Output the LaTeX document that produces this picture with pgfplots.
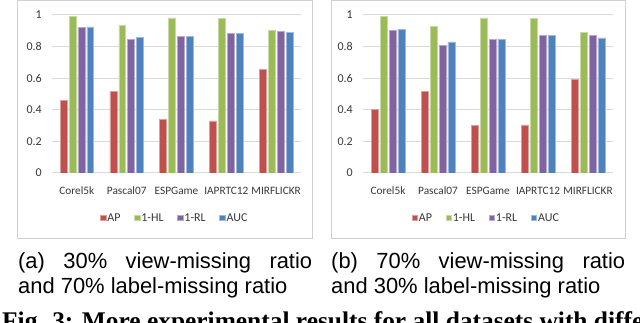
\documentclass[border=0pt]{standalone}
\usepackage{fontspec}
\setmainfont{Carlito}
\newfontfamily\capfont{Liberation Sans}
\newfontfamily\figfont{Liberation Serif}
\usepackage{pgfplots}
\usepackage{pgfplotstable}
\pgfplotsset{compat=1.18}

\definecolor{cAP}{HTML}{C0504D}
\definecolor{cHL}{HTML}{9BBB59}
\definecolor{cRL}{HTML}{8064A2}
\definecolor{cAUC}{HTML}{4F81BD}
\definecolor{gridc}{HTML}{D9D9D9}
\definecolor{boxc}{HTML}{D0D0D0}

\pgfplotstableread{
x AP HL RL AUC
0 0.460 0.990 0.920 0.925
1 0.515 0.935 0.845 0.860
2 0.340 0.982 0.865 0.865
3 0.330 0.977 0.885 0.885
4 0.655 0.902 0.897 0.890
}\dataA

\pgfplotstableread{
x AP HL RL AUC
0 0.402 0.990 0.905 0.910
1 0.515 0.930 0.808 0.830
2 0.300 0.982 0.845 0.848
3 0.305 0.980 0.870 0.870
4 0.592 0.888 0.870 0.855
}\dataB

\pgfplotsset{
  mybars/.style={
    scale only axis, height=158bp,
    ymin=0, ymax=1, xmin=-0.5, xmax=4.5,
    ytick={0,0.2,0.4,0.6,0.8,1},
    xtick={0,1,2,3,4},
    xticklabels={Corel5k,Pascal07,ESPGame,IAPRTC12,MIRFLICKR},
    ymajorgrids, grid style={color=gridc, line width=1bp},
    axis line style={draw=none}, major tick length=0pt,
    ybar=2bp, bar width=6.9bp,
    /pgf/number format/assume math mode=true,
    tick label style={font=\fontsize{12bp}{14bp}\selectfont, text=black!78},
    yticklabel style={anchor=east, inner sep=0pt, xshift=-10bp},
    xticklabel style={anchor=base, inner sep=0pt, yshift=-22bp,
      font=\fontsize{11.3bp}{14bp}\selectfont},
    legend columns=4,
    legend style={draw=none, fill=none, at={(0.5,0)}, anchor=center,
      yshift=-45bp, xshift=-2bp,
      font=\fontsize{12bp}{14bp}\selectfont, text=black!78,
      nodes={inner sep=1.2bp},
      /tikz/every even column/.append style={column sep=12.5bp}},
    legend image code/.code={\fill[##1] (0bp,-2.7bp) rectangle (5.4bp,2.7bp);},
  },
  pAP/.style={fill=cAP, draw=cAP!55!white, line width=0.5bp},
  pHL/.style={fill=cHL, draw=cHL!55!white, line width=0.5bp},
  pRL/.style={fill=cRL, draw=cRL!55!white, line width=0.5bp},
  pAUC/.style={fill=cAUC, draw=cAUC!55!white, line width=0.5bp},
}

\begin{document}
\begin{tikzpicture}
\path[use as bounding box, clip] (0,0) rectangle (640bp,323bp);
\fill[white] (0,0) rectangle (640bp,323bp);
\draw[boxc, line width=0.8bp] (17bp,85bp) rectangle (312bp,322.5bp);
\draw[boxc, line width=0.8bp] (331bp,85bp) rectangle (625bp,322.5bp);

\begin{axis}[mybars, width=249bp, at={(52bp,150bp)}, anchor=south west]
\addplot[pAP] table[x=x,y=AP] {\dataA};
\addplot[pHL] table[x=x,y=HL] {\dataA};
\addplot[pRL] table[x=x,y=RL] {\dataA};
\addplot[pAUC] table[x=x,y=AUC] {\dataA};
\legend{AP,1-HL,1-RL,AUC}
\end{axis}

\begin{axis}[mybars, width=250bp, at={(363bp,150bp)}, anchor=south west]
\addplot[pAP] table[x=x,y=AP] {\dataB};
\addplot[pHL] table[x=x,y=HL] {\dataB};
\addplot[pRL] table[x=x,y=RL] {\dataB};
\addplot[pAUC] table[x=x,y=AUC] {\dataB};
\legend{AP,1-HL,1-RL,AUC}
\end{axis}

\node[anchor=base west, inner sep=0pt, font=\capfont\fontsize{22}{24}\selectfont] at (18bp,54bp) {\makebox[294bp][s]{(a) 30\% view-missing ratio}};
\node[anchor=base west, inner sep=0pt, font=\capfont\fontsize{22}{24}\selectfont] at (18bp,30bp) {and 70\% label-missing ratio};
\node[anchor=base west, inner sep=0pt, font=\capfont\fontsize{22}{24}\selectfont] at (331bp,54bp) {\makebox[294bp][s]{(b) 70\% view-missing ratio}};
\node[anchor=base west, inner sep=0pt, font=\capfont\fontsize{22}{24}\selectfont] at (331bp,30bp) {and 30\% label-missing ratio};

\node[anchor=base west, inner sep=0pt, font=\figfont\bfseries\fontsize{25.5}{27}\selectfont] at (2bp,-6bp) {Fig. 3: More experimental results for all datasets with different};
\end{tikzpicture}
\end{document}
